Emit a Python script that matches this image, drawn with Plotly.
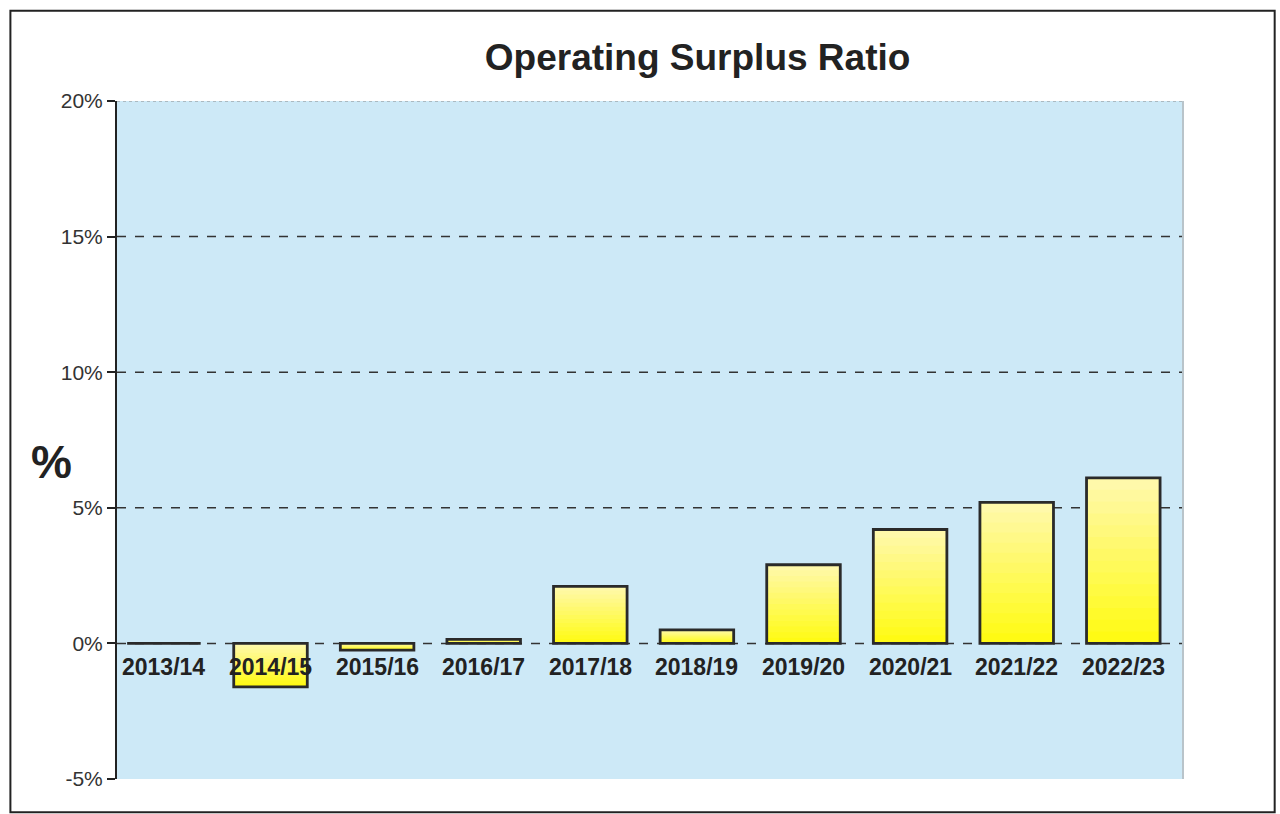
import plotly.graph_objects as go

# Operating surplus ratio by financial year (%)
years = ["2013/14", "2014/15", "2015/16", "2016/17", "2017/18",
         "2018/19", "2019/20", "2020/21", "2021/22", "2022/23"]
ratio = [0.0, -1.6, -0.25, 0.15, 2.1, 0.5, 2.9, 4.2, 5.2, 6.1]

y_ticks = [-5, 0, 5, 10, 15, 20]
y_tick_text = ["-5%", "0%", "5%", "10%", "15%", "20%"]

FONT = "Liberation Sans, Arial, sans-serif"

fig = go.Figure()

# Gradient fill: stacked overlay layers, pale at the top of each bar box,
# bright yellow at its bottom edge
layers = 14
pale = (255, 249, 170)
bright = (255, 250, 20)


def mix(t):
    return "rgb(%d,%d,%d)" % tuple(round(bright[i] + (pale[i] - bright[i]) * t) for i in range(3))


for k in range(layers, 0, -1):
    f = k / layers
    t = (k - 1) / (layers - 1)
    colors = [mix(t) if v >= 0 else mix(1 - t) for v in ratio]
    fig.add_trace(go.Bar(
        x=years, y=[v * f for v in ratio],
        marker=dict(color=colors, line=dict(width=0)),
        width=0.69, hoverinfo="skip", showlegend=False,
    ))

# Outline of each bar
fig.add_trace(go.Bar(
    x=years, y=ratio, width=0.69, showlegend=False,
    marker=dict(color="rgba(0,0,0,0)", line=dict(color="#2a2a2a", width=2.8)),
))

# Category labels sit just under the zero line
for yr in years:
    fig.add_annotation(x=yr, y=0, xref="x", yref="y", text="<b>%s</b>" % yr,
                       showarrow=False, yanchor="top", yshift=-9,
                       font=dict(family=FONT, size=23, color="#222222"))

# Dashed gridlines at 5, 10, 15 and the zero line
for g in [0, 5, 10, 15]:
    fig.add_shape(type="line", xref="paper", yref="y", x0=0, x1=1, y0=g, y1=g,
                  line=dict(color="#333333", width=1.5, dash="dash"), layer="below")

# Faint top gridline and right-hand plot edge
fig.add_shape(type="line", xref="paper", yref="y", x0=0, x1=1, y0=20, y1=20,
              line=dict(color="#8a8a8a", width=1, dash="dot"), layer="below")
fig.add_shape(type="line", xref="paper", yref="paper", x0=1, x1=1, y0=0, y1=1,
              line=dict(color="#b9c4ca", width=2), layer="below")

# Outer frame of the chart
fig.add_shape(type="rect", xref="paper", yref="paper",
              x0=-0.100, x1=1.086, y0=-0.049, y1=1.133,
              line=dict(color="#222222", width=2), fillcolor="rgba(0,0,0,0)")

# Large "%" axis label
fig.add_annotation(x=-0.061, y=0.468, xref="paper", yref="paper", text="<b>%</b>",
                   xanchor="center", yanchor="middle",
                   showarrow=False, font=dict(family=FONT, size=46, color="#222222"))

fig.update_layout(
    width=1280, height=814,
    margin=dict(l=117, r=97, t=101, b=35),
    paper_bgcolor="white",
    plot_bgcolor="#cde9f7",
    barmode="overlay",
    title=dict(text="<b>Operating Surplus Ratio</b>", x=0.545, xanchor="center",
               y=0.93, yanchor="middle",
               font=dict(family=FONT, size=37, color="#222222")),
    xaxis=dict(showticklabels=False, showgrid=False, zeroline=False, showline=False,
               ticks="", range=[-0.44, 9.56]),
    yaxis=dict(range=[-5, 20], tickvals=y_ticks, ticktext=y_tick_text,
               showgrid=False, zeroline=False,
               showline=True, linecolor="#222222", linewidth=2,
               ticks="outside", ticklen=8, tickwidth=1.5, tickcolor="#222222",
               tickfont=dict(family=FONT, size=21, color="#333333")),
    font=dict(family=FONT),
)

fig.write_html("out.html")
